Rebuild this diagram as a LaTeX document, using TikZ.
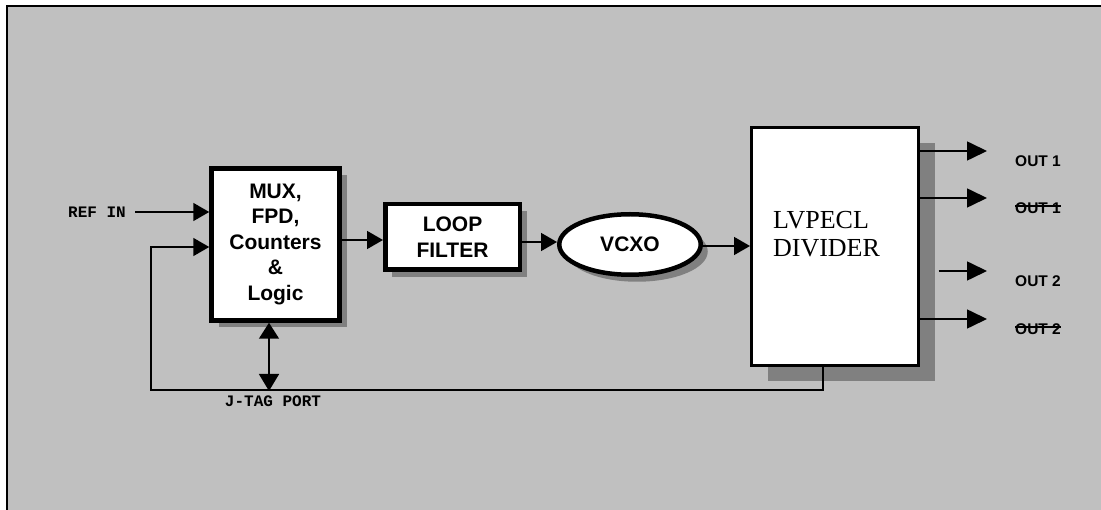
\documentclass[tikz,border=0pt]{standalone}
\usepackage{fontspec}
\setmainfont{Liberation Sans}
\newfontfamily\serifF{Liberation Serif}
\newfontfamily\monoF{Liberation Mono}
\usetikzlibrary{arrows.meta,shapes.geometric,shadows,calc}
\definecolor{bgfill}{HTML}{C0C0C0}
\definecolor{shadowgray}{HTML}{808080}
\newcommand{\strk}[1]{\setbox0=\hbox{#1}\rlap{\rule[0.6\ht0]{\wd0}{1.4pt}}\copy0}
\tikzset{
  blk/.style={draw, fill=white, line width=4.5pt, inner sep=0pt, align=center,
    font=\fontsize{21}{25.5}\selectfont\bfseries},
  shadowed/.style={drop shadow={shadow xshift=#1, shadow yshift=-#1, fill=shadowgray, opacity=1}},
  conn/.style={line width=1.6pt, -{Triangle[length=16pt,width=18pt]}},
  outconn/.style={line width=1.6pt, -{Triangle[length=20pt,width=19pt]}},
  mono/.style={font=\monoF\bfseries\fontsize{16}{18}\selectfont, inner sep=0pt},
  outlbl/.style={font=\bfseries\fontsize{15.5}{18}\selectfont, inner sep=0pt, anchor=west}
}
\begin{document}
\begin{tikzpicture}[x=1pt,y=-1pt]
\useasboundingbox (0,0) rectangle (1101,510);
\fill[bgfill] (7,6) rectangle (1101,510);
\draw[line width=2pt] (1101,6) -- (7,6) -- (7,510);

% blocks
\node[blk, shadowed=7pt, minimum width=128pt, minimum height=152pt] (mux) at (275.5,244.5)
  {MUX,\\FPD,\\Counters\\\&\\Logic};
\node[blk, shadowed=7pt, minimum width=134.5pt, minimum height=65.5pt] (loop) at (452.5,237)
  {LOOP\\FILTER};
\node[blk, ellipse, shadowed=7pt, minimum width=141.5pt, minimum height=60.5pt] (vcxo) at (630,244.5)
  {VCXO};
\node[draw, fill=white, line width=3pt, shadowed=16pt, minimum width=167pt, minimum height=238pt,
  inner sep=0pt] (div) at (835,246.5) {};
\node[font=\serifF\fontsize{26}{28}\selectfont, align=left, inner sep=0pt] (divtxt) at (826.5,234)
  {LVPECL\\DIVIDER};

% inputs
\node[mono, anchor=east] (refin) at (126,212) {REF IN};
\draw[conn] ([xshift=9pt]refin.east) -- (refin.east -| mux.west);

% feedback
\coordinate (fbL) at (151,390);
\coordinate (fbR) at (823,390);
\draw[conn] (div.south -| fbR) -- (fbR) -- (fbL) |- ([yshift=-2.5pt]mux.west);

% J-TAG
\coordinate (jt) at (269,391);
\draw[line width=1.6pt, {Triangle[length=16pt,width=20pt]}-{Triangle[length=17pt,width=20pt]}]
  (mux.south -| jt) -- (jt);
\node[mono] (jtag) at (273,401) {J-TAG PORT};

% chain
\draw[conn] ([yshift=4.5pt]mux.east) -- ([yshift=4.5pt]mux.east -| loop.west);
\draw[conn] ([yshift=-5pt]loop.east) -- ([yshift=-5pt]loop.east -| vcxo.west);
\draw[conn] ([yshift=-1.5pt]vcxo.east) -- ([yshift=-1.5pt]vcxo.east -| div.west);

% outputs
\coordinate (o1) at (987,151);
\coordinate (o2) at (987,198);
\coordinate (o3) at (987,271);
\coordinate (o4) at (987,319);
\draw[outconn] (o1 -| div.east) -- (o1);
\draw[outconn] (o2 -| div.east) -- (o2);
\draw[outconn] ($(o3 -| div.east)+(18.5,0)$) -- (o3);
\draw[outconn] (o4 -| div.east) -- (o4);

\node[outlbl] (l1) at (1015,161) {OUT 1};
\node[outlbl] (l2) at (1015,208) {\strk{OUT 1}};
\node[outlbl] (l3) at (1015,281) {OUT 2};
\node[outlbl] (l4) at (1015,329) {\strk{OUT 2}};
\end{tikzpicture}
\end{document}
